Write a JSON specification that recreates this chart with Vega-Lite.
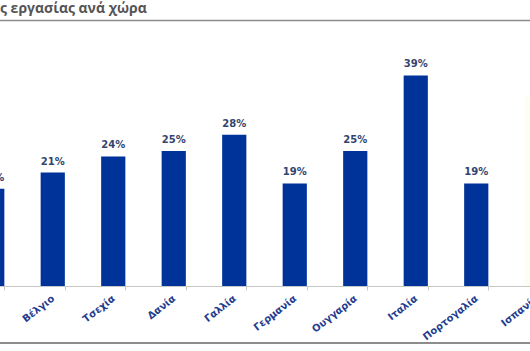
{
  "$schema": "https://vega.github.io/schema/vega-lite/v6.json",
  "autosize": {"type": "none"},
  "width": 605,
  "height": 243,
  "padding": {"left": -38, "top": 43, "right": -37, "bottom": 65},
  "background": "white",
  "view": {"stroke": null},
  "title": {
    "text": "ς εργασίας ανά χώρα",
    "anchor": "start",
    "frame": "group",
    "dx": 38,
    "offset": 4,
    "font": "Open Sans",
    "fontSize": 14,
    "fontWeight": "bold",
    "color": "#555555"
  },
  "data": {
    "values": [
      {"Χώρα": "Αυστρία", "Ποσοστό": 0.18},
      {"Χώρα": "Βέλγιο", "Ποσοστό": 0.21},
      {"Χώρα": "Τσεχία", "Ποσοστό": 0.24},
      {"Χώρα": "Δανία", "Ποσοστό": 0.25},
      {"Χώρα": "Γαλλία", "Ποσοστό": 0.28},
      {"Χώρα": "Γερμανία", "Ποσοστό": 0.19},
      {"Χώρα": "Ουγγαρία", "Ποσοστό": 0.25},
      {"Χώρα": "Ιταλία", "Ποσοστό": 0.39},
      {"Χώρα": "Πορτογαλία", "Ποσοστό": 0.19},
      {"Χώρα": "Ισπανία", "Ποσοστό": 0.35}
    ]
  },
  "resolve": {"axis": {"x": "independent"}},
  "layer": [
    {
      "mark": {"type": "bar"},
      "encoding": {
        "x": {
          "field": "Χώρα", "type": "nominal", "sort": null,
          "scale": {"paddingInner": 0.6, "paddingOuter": 0.3},
          "axis": {
            "title": null,
            "orient": "bottom",
            "tickBand": "extent",
            "domainColor": "#c8c8c8",
            "tickColor": "#c8c8c8",
            "tickSize": 4,
            "labelAngle": -38,
            "labelAlign": "right",
            "labelBaseline": "middle",
            "labelPadding": 7,
            "labelDx": 7,
            "labelFont": "DejaVu Sans",
            "labelFontSize": 10,
            "labelFontWeight": "bold",
            "labelColor": "#1f3d8f",
            "labelOverlap": false,
            "labelBound": false
          }
        },
        "y": {"field": "Ποσοστό", "type": "quantitative", "scale": {"domain": [0, 0.45]}, "axis": null},
        "color": {
          "condition": {"test": "datum['Χώρα'] === 'Ισπανία'", "value": "#fffdf3"},
          "value": "#003399"
        }
      }
    },
    {
      "transform": [{"filter": "datum['Χώρα'] !== 'Ισπανία'"}],
      "mark": {"type": "text", "baseline": "bottom", "dy": -6, "font": "DejaVu Sans", "fontSize": 10, "fontWeight": "bold", "color": "#33446e"},
      "encoding": {
        "x": {
          "field": "Χώρα", "type": "nominal", "sort": null,
          "axis": {"title": null, "orient": "top", "offset": 23, "labels": false, "ticks": false, "domainColor": "#8c8c8c", "domainWidth": 1.5}
        },
        "y": {"field": "Ποσοστό", "type": "quantitative", "axis": null},
        "text": {"field": "Ποσοστό", "type": "quantitative", "format": ".0%"}
      }
    },
    {
      "mark": {"type": "rule", "clip": false, "color": "#8c8c8c", "strokeWidth": 1.5},
      "encoding": {
        "y": {"datum": -0.1056, "type": "quantitative"}
      }
    }
  ]
}
